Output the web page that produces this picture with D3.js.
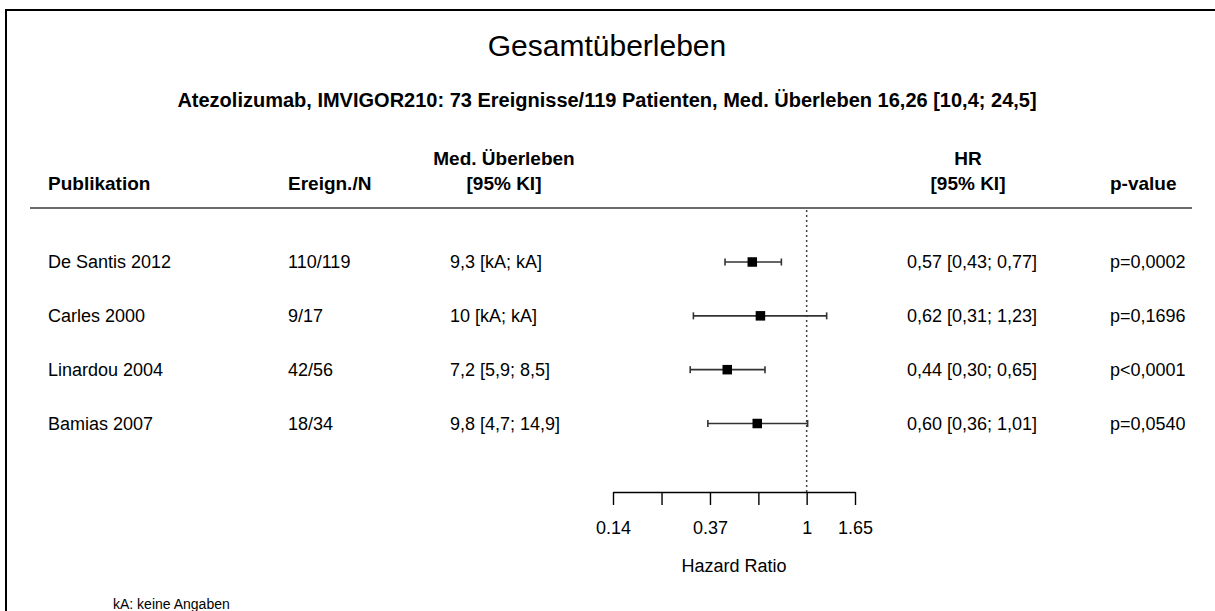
<!DOCTYPE html>
<html>
<head>
<meta charset="utf-8">
<script src="https://cdn.jsdelivr.net/npm/d3@7"></script>
<style>
  body { margin: 0; background: #ffffff; }
  svg { font-family: "Liberation Sans", Arial, sans-serif; }
</style>
</head>
<body>
<div id="forest"></div>
<script>
const publications = ["De Santis 2012", "Carles 2000", "Linardou 2004", "Bamias 2007"];
const events = ["110/119", "9/17", "42/56", "18/34"];
const medianSurvival = ["9,3 [kA; kA]", "10 [kA; kA]", "7,2 [5,9; 8,5]", "9,8 [4,7; 14,9]"];
const hr = [0.57, 0.62, 0.44, 0.60];
const hrLower = [0.43, 0.31, 0.30, 0.36];
const hrUpper = [0.77, 1.23, 0.65, 1.01];
const hrLabels = ["0,57 [0,43; 0,77]", "0,62 [0,31; 1,23]", "0,44 [0,30; 0,65]", "0,60 [0,36; 1,01]"];
const pValues = ["p=0,0002", "p=0,1696", "p<0,0001", "p=0,0540"];
const tickValues = [0.135, 0.223, 0.368, 0.607, 1, 1.6487];
const tickLabels = ["0.14", "", "0.37", "", "1", "1.65"];

drawForest("forest");

function drawForest(containerId) {
  const width = 1215;
  const height = 611;

  const svg = d3
    .select(`#${containerId}`)
    .append("svg")
    .attr("width", width)
    .attr("height", height);

  // frame (cut off on the right and bottom)
  svg
    .append("rect")
    .attr("x", 6)
    .attr("y", 10)
    .attr("width", 1400)
    .attr("height", 800)
    .style("fill", "none")
    .style("stroke", "#000")
    .style("stroke-width", 2);

  svg
    .append("text")
    .attr("x", 607)
    .attr("y", 56)
    .attr("text-anchor", "middle")
    .style("font-size", "30px")
    .text("Gesamtüberleben");

  svg
    .append("text")
    .attr("x", 607)
    .attr("y", 107)
    .attr("text-anchor", "middle")
    .style("font-size", "20px")
    .style("font-weight", "bold")
    .text("Atezolizumab, IMVIGOR210: 73 Ereignisse/119 Patienten, Med. Überleben 16,26 [10,4; 24,5]");

  // column headers
  const head = svg.append("g").style("font-size", "19px").style("font-weight", "bold");
  head.append("text").attr("x", 48).attr("y", 190).text("Publikation");
  head.append("text").attr("x", 288).attr("y", 190).text("Ereign./N");
  head.append("text").attr("x", 504).attr("y", 165).attr("text-anchor", "middle").text("Med. Überleben");
  head.append("text").attr("x", 504).attr("y", 190).attr("text-anchor", "middle").text("[95% KI]");
  head.append("text").attr("x", 968).attr("y", 165).attr("text-anchor", "middle").text("HR");
  head.append("text").attr("x", 968).attr("y", 190).attr("text-anchor", "middle").text("[95% KI]");
  head.append("text").attr("x", 1110).attr("y", 190).text("p-value");

  svg
    .append("line")
    .attr("x1", 30)
    .attr("x2", 1192)
    .attr("y1", 208)
    .attr("y2", 208)
    .style("stroke", "#6a6a6a")
    .style("stroke-width", 2);

  const x = d3.scaleLog().domain([tickValues[0], tickValues[5]]).range([613, 855]);
  const y = d3.scalePoint().domain(publications).range([262, 423.5]);

  // reference line at HR = 1
  svg
    .append("line")
    .attr("x1", x(1))
    .attr("x2", x(1))
    .attr("y1", 210)
    .attr("y2", 492)
    .style("stroke", "#444")
    .style("stroke-width", 1.5)
    .style("stroke-dasharray", "2,3");

  const rows = svg
    .selectAll(".row")
    .data(publications)
    .enter()
    .append("g")
    .attr("class", "row")
    .style("font-size", "18px");

  rows.append("text").attr("x", 48).attr("y", (d) => y(d)).attr("dy", "0.35em").text((d) => d);
  rows.append("text").attr("x", 288).attr("y", (d) => y(d)).attr("dy", "0.35em").text((d, i) => events[i]);
  rows.append("text").attr("x", 450).attr("y", (d) => y(d)).attr("dy", "0.35em").text((d, i) => medianSurvival[i]);
  rows.append("text").attr("x", 907).attr("y", (d) => y(d)).attr("dy", "0.35em").text((d, i) => hrLabels[i]);
  rows.append("text").attr("x", 1110).attr("y", (d) => y(d)).attr("dy", "0.35em").text((d, i) => pValues[i]);

  // confidence intervals
  rows
    .append("line")
    .attr("x1", (d, i) => x(hrLower[i]))
    .attr("x2", (d, i) => x(hrUpper[i]))
    .attr("y1", (d) => y(d))
    .attr("y2", (d) => y(d))
    .style("stroke", "#333")
    .style("stroke-width", 1.6);
  [hrLower, hrUpper].forEach((bound) => {
    rows
      .append("line")
      .attr("x1", (d, i) => x(bound[i]))
      .attr("x2", (d, i) => x(bound[i]))
      .attr("y1", (d) => y(d) - 3.5)
      .attr("y2", (d) => y(d) + 3.5)
      .style("stroke", "#333")
      .style("stroke-width", 1.6);
  });
  const box = 9.5;
  rows
    .append("rect")
    .attr("x", (d, i) => x(hr[i]) - box / 2)
    .attr("y", (d) => y(d) - box / 2)
    .attr("width", box)
    .attr("height", box)
    .style("fill", "#000");

  // axis
  const axis = d3
    .axisBottom(x)
    .tickValues(tickValues)
    .tickFormat((d, i) => tickLabels[i])
    .tickSizeInner(13)
    .tickSizeOuter(0)
    .tickPadding(16);
  const gAxis = svg
    .append("g")
    .attr("transform", "translate(0,492)")
    .call(axis);
  gAxis.select(".domain").style("stroke-width", 1.4);
  gAxis.selectAll(".tick line").style("stroke-width", 1.4);
  gAxis
    .selectAll(".tick text")
    .style("font-size", "18px")
    .style("font-family", "Liberation Sans, Arial, sans-serif");

  svg
    .append("text")
    .attr("x", (x(tickValues[0]) + x(tickValues[5])) / 2)
    .attr("y", 572)
    .attr("text-anchor", "middle")
    .style("font-size", "18px")
    .text("Hazard Ratio");

  svg
    .append("text")
    .attr("x", 113)
    .attr("y", 609)
    .style("font-size", "14px")
    .text("kA: keine Angaben");
}
</script>
</body>
</html>
